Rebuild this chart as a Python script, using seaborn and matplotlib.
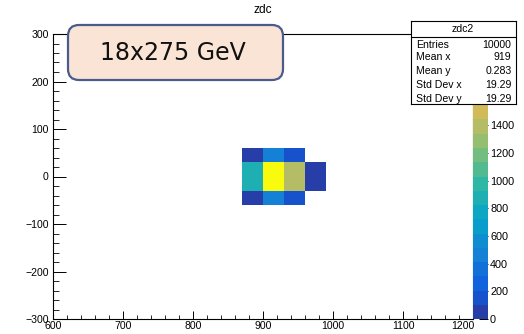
import numpy as np
import pandas as pd
import matplotlib
matplotlib.use("Agg")
import matplotlib.pyplot as plt
from matplotlib.colors import LinearSegmentedColormap, ListedColormap
from matplotlib.patches import FancyBboxPatch
from matplotlib.transforms import IdentityTransform, ScaledTranslation
from matplotlib.ticker import MultipleLocator
import seaborn as sns

# ---------------- data ----------------
title = "zdc"
stats_name = "zdc2"
stats_labels = ["Entries", "Mean x", "Mean y", "Std Dev x", "Std Dev y"]
stats_values = ["10000", "919", "0.283", "19.29", "19.29"]
label_text = "18x275 GeV"

x_centers = [885, 915, 945, 975]
y_centers = [45, 15, -15, -45]
counts = [
    [80, 480, 180, 0],
    [880, 2060, 1380, 60],
    [880, 2060, 1380, 60],
    [80, 480, 180, 0],
]
z_max = 2060
x_edges = np.arange(600, 1201, 30)
y_edges = np.arange(-300, 301, 30)
x_ticks = list(range(600, 1201, 100))
cbar_ticks = list(range(0, 2001, 200))

rows = []
for yi, yc in enumerate(y_centers):
    for xi, xc in enumerate(x_centers):
        if counts[yi][xi] > 0:
            rows.append({"x": xc, "y": yc, "w": counts[yi][xi]})
df = pd.DataFrame(rows)

# ---------------- style ----------------
sns.set_theme(style="white")
plt.rcParams["font.family"] = ["Liberation Sans", "DejaVu Sans"]

# ROOT kBird palette, 20 contour levels
stops = [0.0, 0.125, 0.25, 0.375, 0.5, 0.625, 0.75, 0.875, 1.0]
red = [0.2082, 0.0592, 0.0780, 0.0232, 0.1802, 0.5301, 0.8186, 0.9956, 0.9764]
green = [0.1664, 0.3599, 0.5041, 0.6419, 0.7178, 0.7492, 0.7328, 0.7862, 0.9832]
blue = [0.5293, 0.8684, 0.8385, 0.7914, 0.6425, 0.4662, 0.3499, 0.1968, 0.0539]
bird = LinearSegmentedColormap.from_list(
    "bird", [(s, (r, g, b)) for s, r, g, b in zip(stops, red, green, blue)], N=255)
nlev = 20
cmap = ListedColormap([bird(int((i + 0.99) * 255 / nlev) / 254) for i in range(nlev)])

W, H = 524, 334
fig = plt.figure(figsize=(W / 100, H / 100), dpi=100)
fig.patch.set_facecolor("white")

ax_l, ax_r, ax_t, ax_b = 53, 473, 34, 319
ax = fig.add_axes([ax_l / W, 1 - ax_b / H, (ax_r - ax_l) / W, (ax_b - ax_t) / H])
cax = fig.add_axes([ax_r / W, 1 - ax_b / H, 15 / W, (ax_b - ax_t) / H])

sns.histplot(data=df, x="x", y="y", weights="w", bins=[x_edges, y_edges],
             cmap=cmap, vmin=0, vmax=z_max, cbar=True, cbar_ax=cax, ax=ax)

ax.set_xlim(600, 1200)
ax.set_ylim(-300, 300)
ax.set_xlabel("")
ax.set_ylabel("")
ax.set_facecolor("white")
for sp in ax.spines.values():
    sp.set_visible(True)
    sp.set_color("black")
    sp.set_linewidth(0.8)

ax.set_xticks(x_ticks)
ax.xaxis.set_minor_locator(MultipleLocator(20))
ax.yaxis.set_major_locator(MultipleLocator(100))
ax.yaxis.set_minor_locator(MultipleLocator(20))
ax.tick_params(axis="x", which="major", direction="in", length=6, width=0.7,
               bottom=True, top=False, labelsize=7.6, pad=1.5, colors="black")
ax.tick_params(axis="x", which="minor", direction="in", length=3, width=0.7,
               bottom=True, top=False)
ax.tick_params(axis="y", which="major", direction="in", length=9, width=0.7,
               left=True, right=False, labelsize=7.6, pad=3, colors="black")
ax.tick_params(axis="y", which="minor", direction="in", length=4.5, width=0.7,
               left=True, right=False)
ax.grid(False)
# ROOT nudges the last x label left, away from the palette
last_lab = ax.get_xticklabels()[-1]
last_lab.set_transform(last_lab.get_transform() + ScaledTranslation(-10 / 100, 0, fig.dpi_scale_trans))

# colour bar
cax.set_yticks(cbar_ticks)
cax.yaxis.set_ticks_position("right")
cax.tick_params(axis="y", which="major", direction="in", length=6.5, width=0.7,
                labelsize=7.8, pad=1.5, colors="black", right=True, left=False)
cax.minorticks_off()
for sp in cax.spines.values():
    sp.set_visible(False)
try:
    ax.collections[0].colorbar.outline.set_visible(False)
except Exception:
    pass

# title
fig.text(263 / W, 1 - 10 / H, title, ha="center", va="center", fontsize=8.6, color="black")

# label box
bx0, by0, bx1, by1 = 68, 25, 283, 80
box = FancyBboxPatch((bx0, H - by1), bx1 - bx0, by1 - by0,
                     boxstyle="round,pad=0,rounding_size=11",
                     transform=IdentityTransform(),
                     facecolor="#fae4d6", edgecolor="#4a5b8c", linewidth=1.6, zorder=20)
fig.add_artist(box)
fig.text(173 / W, 1 - 53 / H, label_text, ha="center", va="center", fontsize=17,
         family=["DejaVu Sans"], color="#111111", zorder=21)

# stats box
sx0, sy0, sx1, sy1 = 411, 21, 516, 104
sax = fig.add_axes([sx0 / W, 1 - sy1 / H, (sx1 - sx0) / W, (sy1 - sy0) / H], zorder=30)
sax.set_facecolor("white")
sax.set_xticks([])
sax.set_yticks([])
sax.set_xlim(sx0, sx1)
sax.set_ylim(sy1, sy0)
for sp in sax.spines.values():
    sp.set_visible(True)
    sp.set_color("black")
    sp.set_linewidth(0.8)
sax.axhline(37.3, color="black", linewidth=0.8)
sax.text(463, 29.5, stats_name, ha="center", va="center", fontsize=7.6, color="black")
row_y = [45, 57.5, 71, 85, 98.5]
for lab, val, yy in zip(stats_labels, stats_values, row_y):
    sax.text(416.5, yy, lab, ha="left", va="center", fontsize=7.6, color="black")
    sax.text(511.5, yy, val, ha="right", va="center", fontsize=7.6, color="black")

fig.savefig("out.png", dpi=100)
